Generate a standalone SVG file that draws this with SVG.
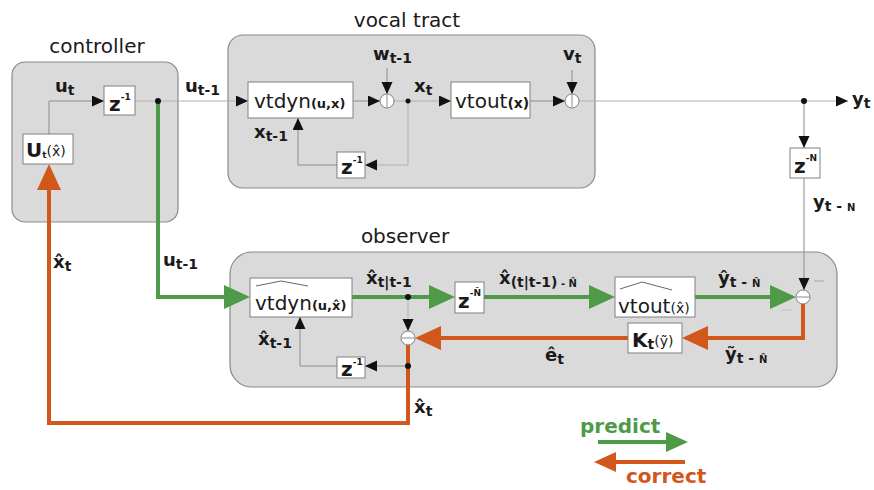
<svg xmlns="http://www.w3.org/2000/svg" width="874" height="490" viewBox="0 0 874 490">
<style>
.grp{fill:#dadada;stroke:#8a8a8a;stroke-width:1.2}
.box{fill:#fff;stroke:#808080;stroke-width:1}
.sum{fill:#fff;stroke:#808080;stroke-width:1}
.sig{fill:none;stroke:#8c8c8c;stroke-width:1}
.sigl{fill:none;stroke:#b0b0b0;stroke-width:1}
.g{fill:none;stroke:#4f9a48;stroke-width:4}
.o{fill:none;stroke:#d2571b;stroke-width:4}
.dot{fill:#111}
text{font-family:"DejaVu Sans","Liberation Sans",Arial,sans-serif;fill:#1a1a1a}
.title{font-size:20px}
.lb{font-size:18px;font-weight:bold}
.sub{font-size:14px;font-weight:bold}
.bx{font-size:20px}
.bxa{font-size:13px;font-weight:bold}
.zz{font-size:20px;font-weight:bold}
.sup{font-size:9px;font-weight:bold}
.hat{fill:none;stroke:#555;stroke-width:0.9}
</style>
<defs>
<marker id="ak" markerUnits="userSpaceOnUse" markerWidth="13" markerHeight="12" refX="12" refY="5.5" orient="auto"><path d="M0,0 L12,5.5 L0,11 z" fill="#111"/></marker>
<marker id="ag" markerUnits="userSpaceOnUse" markerWidth="27" markerHeight="25" refX="20" refY="12" orient="auto"><path d="M0,0 L26,12 L0,24 z" fill="#4f9a48"/></marker>
<marker id="ao" markerUnits="userSpaceOnUse" markerWidth="27" markerHeight="25" refX="20" refY="12" orient="auto"><path d="M0,0 L26,12 L0,24 z" fill="#d2571b"/></marker>
<marker id="agl" markerUnits="userSpaceOnUse" markerWidth="22" markerHeight="21" refX="16" refY="10" orient="auto"><path d="M0,0 L22,10 L0,20 z" fill="#4f9a48"/></marker>
<marker id="aol" markerUnits="userSpaceOnUse" markerWidth="22" markerHeight="21" refX="16" refY="10" orient="auto"><path d="M0,0 L22,10 L0,20 z" fill="#d2571b"/></marker>
</defs>

<g id="controller">
<rect class="grp" x="12" y="62" width="166" height="160" rx="13"/>
<text class="title" x="97" y="53" text-anchor="middle">controller</text>
</g>
<g id="vocal-tract">
<rect class="grp" x="228" y="35" width="367" height="153" rx="15"/>
<text class="title" x="407" y="27" text-anchor="middle">vocal tract</text>
</g>
<g id="observer">
<rect class="grp" x="230" y="252" width="607" height="135" rx="22"/>
<text class="title" x="405" y="243" text-anchor="middle">observer</text>
</g>

<g id="connectors">
<path class="sig" d="M49,134 V101 H104" marker-end="url(#ak)"/>
<path class="sigl" d="M135,101 H248" marker-end="url(#ak)"/>
<path class="sig" d="M353,101 H380" marker-end="url(#ak)"/>
<path class="sig" d="M387,68 V94" marker-end="url(#ak)"/>
<path class="sigl" d="M394,101 H451" marker-end="url(#ak)"/>
<path class="sigl" d="M408,101 V165 H365" marker-end="url(#ak)"/>
<path class="sig" d="M337,165 H298 V118" marker-end="url(#ak)"/>
<path class="sig" d="M530,101 H565" marker-end="url(#ak)"/>
<path class="sig" d="M572,70 V94" marker-end="url(#ak)"/>
<path class="sigl" d="M579,101 H848" marker-end="url(#ak)"/>
<path class="sig" d="M804,101 V148" marker-end="url(#ak)"/>
<path class="sig" d="M804,178 V290" marker-end="url(#ak)"/>
<path class="g" d="M158,101 V297 H244" marker-end="url(#ag)"/>
<path class="g" d="M352,297 H449" marker-end="url(#ag)"/>
<path class="g" d="M484,297 H609" marker-end="url(#ag)"/>
<path class="g" d="M695,297 H790" marker-end="url(#ag)"/>
<path class="sigl" d="M408,297 V331" marker-end="url(#ak)"/>
<path class="o" d="M803,304 V338 H688" marker-end="url(#ao)"/>
<path class="o" d="M628,338 H421" marker-end="url(#ao)"/>
<path class="o" d="M408,345 V423 H49 V170" marker-end="url(#ao)"/>
<path class="sig" d="M408,366 H365" marker-end="url(#ak)"/>
<path class="sig" d="M337,366 H300 V317" marker-end="url(#ak)"/>
<circle class="dot" cx="158" cy="101" r="3"/>
<circle class="dot" cx="408" cy="101" r="2.5"/>
<circle class="dot" cx="804" cy="101" r="3"/>
<circle class="dot" cx="408" cy="297" r="3"/>
<circle class="dot" cx="408" cy="366" r="3"/>
</g>

<g id="z-ctrl">
<rect class="box" x="104" y="86" width="31" height="29"/>
<text class="zz" x="109" y="111">z<tspan class="sup" dy="-11">-1</tspan></text>
</g>
<g id="U">
<rect class="box" x="23" y="134" width="50" height="30"/>
<text x="26" y="157"><tspan class="zz">U</tspan><tspan font-size="9" font-weight="bold" dy="1">t</tspan><tspan font-size="14" dy="-2">(x̂)</tspan></text>
</g>
<g id="vtdyn">
<rect class="box" x="248" y="82" width="105" height="36"/>
<text x="254" y="108"><tspan class="bx">vtdyn</tspan><tspan class="bxa">(u,x)</tspan></text>
</g>
<g id="sum1">
<circle class="sum" cx="387" cy="101" r="7"/>
<path class="sig" d="M387,95 V107"/>
</g>
<g id="vtout">
<rect class="box" x="451" y="82" width="79" height="36"/>
<text x="455" y="108"><tspan class="bx">vtout</tspan><tspan font-size="14" font-weight="bold">(x)</tspan></text>
</g>
<g id="sum2">
<circle class="sum" cx="572" cy="101" r="7"/>
<path class="sig" d="M572,95 V107"/>
</g>
<g id="z-vt">
<rect class="box" x="337" y="152" width="28" height="26"/>
<text class="zz" x="341" y="174">z<tspan class="sup" dy="-11">-1</tspan></text>
</g>
<g id="zN">
<rect class="box" x="790" y="148" width="30" height="30"/>
<text class="zz" x="794" y="173">z<tspan class="sup" dy="-12">-N</tspan></text>
</g>
<g id="vtdyn-hat">
<rect class="box" x="250" y="278" width="102" height="39"/>
<path class="hat" d="M256,286 L281,281 L308,286"/>
<text x="255" y="310"><tspan class="bx">vtdyn</tspan><tspan class="bxa">(u,x̂)</tspan></text>
</g>
<g id="zNhat">
<rect class="box" x="455" y="282" width="29" height="31"/>
<text class="zz" x="458" y="308">z<tspan class="sup" dy="-12">-N̂</tspan></text>
</g>
<g id="vtout-hat">
<rect class="box" x="615" y="277" width="80" height="40"/>
<path class="hat" d="M620,289 L642,282 L672,290"/>
<text x="618" y="313"><tspan class="bx">vtout</tspan><tspan font-size="14">(x̂)</tspan></text>
</g>
<g id="sum3">
<circle class="sum" cx="803" cy="297" r="7"/>
<path class="sig" d="M797,297 H809"/>
<path fill="none" stroke="#999" stroke-width="0.8" d="M814,281 H824"/>
<path fill="none" stroke="#bbb" stroke-width="0.8" d="M782,310 H792"/>
</g>
<g id="K">
<rect class="box" x="628" y="323" width="54" height="30"/>
<text x="632" y="347"><tspan class="zz">K</tspan><tspan class="sub" dy="2">t</tspan><tspan font-size="14" dy="-3">(ỹ)</tspan></text>
</g>
<g id="sum4">
<circle class="sum" cx="408" cy="338" r="7"/>
<path class="sig" d="M402,338 H414"/>
</g>
<g id="z-obs">
<rect class="box" x="337" y="357" width="28" height="21"/>
<text class="zz" x="341" y="376">z<tspan class="sup" dy="-11">-1</tspan></text>
</g>

<g id="labels">
<text class="lb" x="55" y="92">u<tspan class="sub" dy="3">t</tspan></text>
<text class="lb" x="185" y="92">u<tspan class="sub" dy="3">t-1</tspan></text>
<text class="lb" x="373" y="60">w<tspan class="sub" dy="3">t-1</tspan></text>
<text class="lb" x="414" y="92">x<tspan class="sub" dy="3">t</tspan></text>
<text class="lb" x="563" y="60">v<tspan class="sub" dy="3">t</tspan></text>
<text class="lb" x="254" y="138">x<tspan class="sub" dy="3">t-1</tspan></text>
<text class="lb" x="852" y="105">y<tspan class="sub" dy="3">t</tspan></text>
<text class="lb" x="813" y="208">y<tspan class="sub" dy="3">t - </tspan><tspan font-size="10" font-weight="bold">N</tspan></text>
<text class="lb" x="163" y="266">u<tspan class="sub" dy="3">t-1</tspan></text>
<text class="lb" x="53" y="268">x̂<tspan class="sub" dy="3">t</tspan></text>
<text class="lb" x="366" y="284">x̂<tspan class="sub" dy="3">t|t-1</tspan></text>
<text class="lb" x="499" y="284">x̂<tspan class="sub" dy="3">(t|t-1)</tspan><tspan font-size="10" font-weight="bold"> - N̂</tspan></text>
<text class="lb" x="718" y="284">ŷ<tspan class="sub" dy="3">t - </tspan><tspan font-size="10" font-weight="bold">N̂</tspan></text>
<text class="lb" x="545" y="361">ê<tspan class="sub" dy="3">t</tspan></text>
<text class="lb" x="725" y="360">ỹ<tspan class="sub" dy="3">t - </tspan><tspan font-size="10" font-weight="bold">N̂</tspan></text>
<text class="lb" x="258" y="345">x̂<tspan class="sub" dy="3">t-1</tspan></text>
<text class="lb" x="414" y="413">x̂<tspan class="sub" dy="3">t</tspan></text>
</g>

<g id="legend">
<path class="g" d="M598,442 H682" marker-end="url(#agl)"/>
<path class="o" d="M685,462 H600" marker-end="url(#aol)"/>
<text x="580" y="433" font-size="20" font-weight="bold" style="fill:#4f9a48">predict</text>
<text x="626" y="483" font-size="20" font-weight="bold" style="fill:#d2571b">correct</text>
</g>
</svg>
